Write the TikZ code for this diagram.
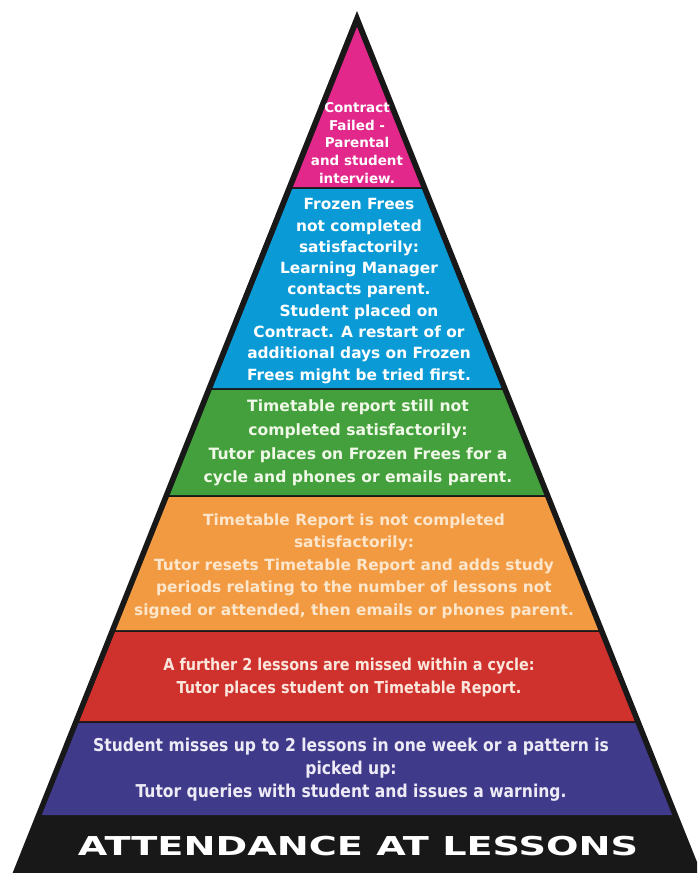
\documentclass[tikz,border=0pt]{standalone}
\usepackage{fontspec}
\setmainfont{DejaVu Sans}
\newfontfamily\condfont{DejaVu Sans}[FakeStretch=0.88]
\newfontfamily\widefont{DejaVu Sans}[FakeStretch=1.47]
\definecolor{cpink}{RGB}{227,40,140}
\definecolor{cblue}{RGB}{10,155,215}
\definecolor{cgreen}{RGB}{67,160,60}
\definecolor{corange}{RGB}{242,154,66}
\definecolor{cred}{RGB}{207,49,45}
\definecolor{cpurple}{RGB}{64,58,138}
\definecolor{cblack}{RGB}{24,24,24}
\definecolor{tgreen}{RGB}{240,248,232}
\definecolor{torange}{RGB}{252,230,204}
\definecolor{tred}{RGB}{250,230,220}
\definecolor{tpurple}{RGB}{237,235,245}
\newcommand{\band}[3]{%
  \fill[#3] ({357-0.4*(#1-27)},#1) -- ({357+0.4*(#1-27)},#1) --
    ({357+0.4*(#2-27)},#2) -- ({357-0.4*(#2-27)},#2) -- cycle;}
\tikzset{
  bandtxt/.style={align=center, inner sep=0pt, text=white},
}
\begin{document}
\begin{tikzpicture}[x=1pt,y=-1pt]
\useasboundingbox (0,0) rectangle (697,873);
\fill[white] (0,0) rectangle (697,873);
\begin{scope}
\clip (0,0) rectangle (697,873);
\fill[cblack] (357,11) -- ({357+0.4*(873-12)},873) -- ({357-0.4*(873-12)},873) -- cycle;
\end{scope}
\band{27}{187}{cpink}
\band{189}{388}{cblue}
\band{390}{495}{cgreen}
\band{497}{630}{corange}
\band{632}{721}{cred}
\band{723}{815}{cpurple}

\node[bandtxt, font=\fontsize{13.5}{17.7}\selectfont\bfseries] (pinktxt) at (357,143)
  {Contract\\Failed -\\Parental\\and student\\interview.};
\node[bandtxt, font=\fontsize{15.4}{21.3}\selectfont\bfseries] (bluetxt) at (359,291)
  {Frozen Frees\\not completed\\satisfactorily:\\Learning Manager\\contacts parent.\\Student placed on\\Contract. A restart of or\\additional days on Frozen\\Frees might be tried first.};
\node[bandtxt, text=tgreen, font=\fontsize{15.6}{23.5}\selectfont\bfseries] (greentxt) at (358,443)
  {Timetable report still not\\completed satisfactorily:\\Tutor places on Frozen Frees for a\\cycle and phones or emails parent.};
\node[bandtxt, text=torange, font=\fontsize{15.4}{22.5}\selectfont\bfseries] (orangetxt) at (354,566)
  {Timetable Report is not completed\\satisfactorily:\\Tutor resets Timetable Report and adds study\\periods relating to the number of lessons not\\signed or attended, then emails or phones parent.};
\node[bandtxt, text=tred, font=\fontsize{16.4}{23}\selectfont\condfont\bfseries] (redtxt) at (349,677)
  {A further 2 lessons are missed within a cycle:\\Tutor places student on Timetable Report.};
\node[bandtxt, text=tpurple, font=\fontsize{17.7}{23}\selectfont\condfont\bfseries] (purpletxt) at (351,770)
  {Student misses up to 2 lessons in one week or a pattern is\\picked up:\\Tutor queries with student and issues a warning.};
\node[bandtxt, font=\fontsize{26}{30}\selectfont\widefont\bfseries] (title) at (358,846)
  {ATTENDANCE AT LESSONS};
\end{tikzpicture}
\end{document}
